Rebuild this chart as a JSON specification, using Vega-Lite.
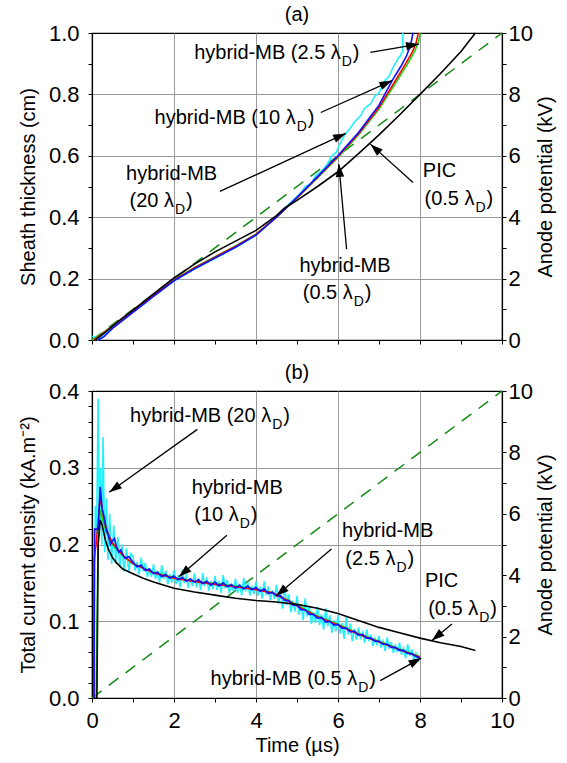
{
  "$schema": "https://vega.github.io/schema/vega-lite/v6.json",
  "padding": {"left": 17, "top": 4, "right": 5, "bottom": 5},
  "background": "white",
  "config": {
    "font": "Liberation Sans",
    "view": {"stroke": "black", "strokeWidth": 1.2},
    "title": {"fontSize": 20, "fontWeight": "normal", "font": "Liberation Sans", "color": "black"},
    "text": {"font": "Liberation Sans", "color": "black"},
    "axis": {
      "labelFont": "Liberation Sans", "titleFont": "Liberation Sans",
      "labelFontSize": 22, "titleFontSize": 20, "titleFontWeight": "normal",
      "labelColor": "black", "titleColor": "black",
      "domainColor": "black", "domainWidth": 1.2,
      "tickColor": "black", "tickSize": 4, "tickWidth": 1,
      "gridColor": "#999999", "gridWidth": 1,
      "labelPadding": 5, "titlePadding": 7,
      "labelFlush": false, "labelOverlap": false
    }
  },
  "datasets": {
    "sa": [
      {"s":"hybrid-MB 20","t":0,"v":0.012},{"s":"hybrid-MB 20","t":0.05,"v":0.01},{"s":"hybrid-MB 20","t":0.15,"v":0},{"s":"hybrid-MB 20","t":0.3,"v":0.015},{"s":"hybrid-MB 20","t":0.5,"v":0.04},{"s":"hybrid-MB 20","t":0.8,"v":0.07},{"s":"hybrid-MB 20","t":1,"v":0.092},{"s":"hybrid-MB 20","t":1.3,"v":0.12},{"s":"hybrid-MB 20","t":1.5,"v":0.143},{"s":"hybrid-MB 20","t":2,"v":0.193},{"s":"hybrid-MB 20","t":2.5,"v":0.231},{"s":"hybrid-MB 20","t":3,"v":0.266},{"s":"hybrid-MB 20","t":3.5,"v":0.301},{"s":"hybrid-MB 20","t":4,"v":0.342},{"s":"hybrid-MB 20","t":4.4,"v":0.39},{"s":"hybrid-MB 20","t":4.7,"v":0.43},{"s":"hybrid-MB 20","t":4.9,"v":0.455},{"s":"hybrid-MB 20","t":5.1,"v":0.48},{"s":"hybrid-MB 20","t":5.2,"v":0.5},{"s":"hybrid-MB 20","t":5.35,"v":0.51},{"s":"hybrid-MB 20","t":5.45,"v":0.535},{"s":"hybrid-MB 20","t":5.6,"v":0.55},{"s":"hybrid-MB 20","t":5.75,"v":0.575},{"s":"hybrid-MB 20","t":5.85,"v":0.6},{"s":"hybrid-MB 20","t":5.95,"v":0.61},{"s":"hybrid-MB 20","t":6.05,"v":0.64},{"s":"hybrid-MB 20","t":6.17,"v":0.67},{"s":"hybrid-MB 20","t":6.3,"v":0.69},{"s":"hybrid-MB 20","t":6.4,"v":0.71},{"s":"hybrid-MB 20","t":6.55,"v":0.73},{"s":"hybrid-MB 20","t":6.65,"v":0.755},{"s":"hybrid-MB 20","t":6.8,"v":0.77},{"s":"hybrid-MB 20","t":6.9,"v":0.795},{"s":"hybrid-MB 20","t":7,"v":0.805},{"s":"hybrid-MB 20","t":7.14,"v":0.845},{"s":"hybrid-MB 20","t":7.25,"v":0.86},{"s":"hybrid-MB 20","t":7.35,"v":0.89},{"s":"hybrid-MB 20","t":7.48,"v":0.92},{"s":"hybrid-MB 20","t":7.52,"v":0.925},{"s":"hybrid-MB 20","t":7.55,"v":0.935},{"s":"hybrid-MB 20","t":7.58,"v":0.94},{"s":"hybrid-MB 20","t":7.58,"v":1},
      {"s":"hybrid-MB 0.5","t":0,"v":0},{"s":"hybrid-MB 0.5","t":0.25,"v":0.022},{"s":"hybrid-MB 0.5","t":0.5,"v":0.046},{"s":"hybrid-MB 0.5","t":1,"v":0.096},{"s":"hybrid-MB 0.5","t":1.5,"v":0.146},{"s":"hybrid-MB 0.5","t":2,"v":0.196},{"s":"hybrid-MB 0.5","t":2.5,"v":0.236},{"s":"hybrid-MB 0.5","t":3,"v":0.271},{"s":"hybrid-MB 0.5","t":3.5,"v":0.306},{"s":"hybrid-MB 0.5","t":4,"v":0.345},{"s":"hybrid-MB 0.5","t":4.5,"v":0.4},{"s":"hybrid-MB 0.5","t":5,"v":0.462},{"s":"hybrid-MB 0.5","t":5.5,"v":0.528},{"s":"hybrid-MB 0.5","t":6,"v":0.595},{"s":"hybrid-MB 0.5","t":6.5,"v":0.668},{"s":"hybrid-MB 0.5","t":7,"v":0.752},{"s":"hybrid-MB 0.5","t":7.42,"v":0.84},{"s":"hybrid-MB 0.5","t":7.7,"v":0.9},{"s":"hybrid-MB 0.5","t":7.85,"v":0.935},{"s":"hybrid-MB 0.5","t":7.95,"v":0.965},{"s":"hybrid-MB 0.5","t":8.01,"v":1},
      {"s":"hybrid-MB 2.5","t":0.05,"v":0},{"s":"hybrid-MB 2.5","t":0.25,"v":0.02},{"s":"hybrid-MB 2.5","t":0.5,"v":0.045},{"s":"hybrid-MB 2.5","t":1,"v":0.095},{"s":"hybrid-MB 2.5","t":1.5,"v":0.145},{"s":"hybrid-MB 2.5","t":2,"v":0.195},{"s":"hybrid-MB 2.5","t":2.5,"v":0.235},{"s":"hybrid-MB 2.5","t":3,"v":0.27},{"s":"hybrid-MB 2.5","t":3.5,"v":0.305},{"s":"hybrid-MB 2.5","t":4,"v":0.344},{"s":"hybrid-MB 2.5","t":4.5,"v":0.401},{"s":"hybrid-MB 2.5","t":5,"v":0.463},{"s":"hybrid-MB 2.5","t":5.5,"v":0.53},{"s":"hybrid-MB 2.5","t":6,"v":0.598},{"s":"hybrid-MB 2.5","t":6.5,"v":0.672},{"s":"hybrid-MB 2.5","t":7,"v":0.758},{"s":"hybrid-MB 2.5","t":7.4,"v":0.845},{"s":"hybrid-MB 2.5","t":7.65,"v":0.9},{"s":"hybrid-MB 2.5","t":7.8,"v":0.935},{"s":"hybrid-MB 2.5","t":7.9,"v":0.965},{"s":"hybrid-MB 2.5","t":7.96,"v":1},
      {"s":"hybrid-MB 10","t":0.15,"v":0},{"s":"hybrid-MB 10","t":0.3,"v":0.012},{"s":"hybrid-MB 10","t":0.5,"v":0.038},{"s":"hybrid-MB 10","t":1,"v":0.09},{"s":"hybrid-MB 10","t":1.5,"v":0.142},{"s":"hybrid-MB 10","t":2,"v":0.193},{"s":"hybrid-MB 10","t":2.5,"v":0.232},{"s":"hybrid-MB 10","t":3,"v":0.267},{"s":"hybrid-MB 10","t":3.5,"v":0.302},{"s":"hybrid-MB 10","t":4,"v":0.342},{"s":"hybrid-MB 10","t":4.5,"v":0.4},{"s":"hybrid-MB 10","t":5,"v":0.465},{"s":"hybrid-MB 10","t":5.5,"v":0.532},{"s":"hybrid-MB 10","t":6,"v":0.601},{"s":"hybrid-MB 10","t":6.5,"v":0.676},{"s":"hybrid-MB 10","t":7,"v":0.765},{"s":"hybrid-MB 10","t":7.32,"v":0.845},{"s":"hybrid-MB 10","t":7.55,"v":0.895},{"s":"hybrid-MB 10","t":7.67,"v":0.925},{"s":"hybrid-MB 10","t":7.77,"v":0.96},{"s":"hybrid-MB 10","t":7.83,"v":1},
      {"s":"PIC 0.5","t":0.08,"v":0},{"s":"PIC 0.5","t":0.3,"v":0.022},{"s":"PIC 0.5","t":0.5,"v":0.045},{"s":"PIC 0.5","t":0.75,"v":0.072},{"s":"PIC 0.5","t":1,"v":0.097},{"s":"PIC 0.5","t":1.5,"v":0.15},{"s":"PIC 0.5","t":2,"v":0.202},{"s":"PIC 0.5","t":2.5,"v":0.247},{"s":"PIC 0.5","t":3,"v":0.287},{"s":"PIC 0.5","t":3.5,"v":0.322},{"s":"PIC 0.5","t":4,"v":0.357},{"s":"PIC 0.5","t":4.5,"v":0.405},{"s":"PIC 0.5","t":4.7,"v":0.43},{"s":"PIC 0.5","t":5,"v":0.455},{"s":"PIC 0.5","t":5.5,"v":0.5},{"s":"PIC 0.5","t":6,"v":0.548},{"s":"PIC 0.5","t":6.5,"v":0.607},{"s":"PIC 0.5","t":7,"v":0.668},{"s":"PIC 0.5","t":7.5,"v":0.733},{"s":"PIC 0.5","t":8,"v":0.8},{"s":"PIC 0.5","t":8.5,"v":0.868},{"s":"PIC 0.5","t":9,"v":0.94},{"s":"PIC 0.5","t":9.35,"v":1}
    ],
    "sb": [
      {"s":"hybrid-MB 20","t":0.05,"v":0},{"s":"hybrid-MB 20","t":0.08,"v":0.25},{"s":"hybrid-MB 20","t":0.11,"v":0.2},{"s":"hybrid-MB 20","t":0.15,"v":0.39},{"s":"hybrid-MB 20","t":0.18,"v":0.21},{"s":"hybrid-MB 20","t":0.21,"v":0.3},{"s":"hybrid-MB 20","t":0.24,"v":0.2},{"s":"hybrid-MB 20","t":0.27,"v":0.34},{"s":"hybrid-MB 20","t":0.31,"v":0.19},{"s":"hybrid-MB 20","t":0.35,"v":0.26},{"s":"hybrid-MB 20","t":0.39,"v":0.18},{"s":"hybrid-MB 20","t":0.43,"v":0.24},{"s":"hybrid-MB 20","t":0.48,"v":0.175},{"s":"hybrid-MB 20","t":0.53,"v":0.225},{"s":"hybrid-MB 20","t":0.58,"v":0.175},{"s":"hybrid-MB 20","t":0.63,"v":0.21},{"s":"hybrid-MB 20","t":0.68,"v":0.17},{"s":"hybrid-MB 20","t":0.73,"v":0.2},{"s":"hybrid-MB 20","t":0.78,"v":0.165},{"s":"hybrid-MB 20","t":0.84,"v":0.195},{"s":"hybrid-MB 20","t":0.9,"v":0.163},{"s":"hybrid-MB 20","t":0.95,"v":0.188},
      {"s":"hybrid-MB 20","t":1.0,"v":0.185},{"s":"hybrid-MB 20","t":1.05,"v":0.166},{"s":"hybrid-MB 20","t":1.1,"v":0.177},{"s":"hybrid-MB 20","t":1.15,"v":0.161},{"s":"hybrid-MB 20","t":1.2,"v":0.183},{"s":"hybrid-MB 20","t":1.25,"v":0.165},{"s":"hybrid-MB 20","t":1.3,"v":0.176},{"s":"hybrid-MB 20","t":1.35,"v":0.1575},{"s":"hybrid-MB 20","t":1.4,"v":0.169},{"s":"hybrid-MB 20","t":1.45,"v":0.158},{"s":"hybrid-MB 20","t":1.5,"v":0.174},{"s":"hybrid-MB 20","t":1.55,"v":0.155},{"s":"hybrid-MB 20","t":1.6,"v":0.166},{"s":"hybrid-MB 20","t":1.65,"v":0.1505},{"s":"hybrid-MB 20","t":1.7,"v":0.173},{"s":"hybrid-MB 20","t":1.75,"v":0.155},{"s":"hybrid-MB 20","t":1.8,"v":0.166},{"s":"hybrid-MB 20","t":1.85,"v":0.1485},{"s":"hybrid-MB 20","t":1.9,"v":0.161},{"s":"hybrid-MB 20","t":1.95,"v":0.1505},
      {"s":"hybrid-MB 20","t":2.0,"v":0.167},{"s":"hybrid-MB 20","t":2.05,"v":0.1485},{"s":"hybrid-MB 20","t":2.1,"v":0.16},{"s":"hybrid-MB 20","t":2.15,"v":0.1445},{"s":"hybrid-MB 20","t":2.2,"v":0.167},{"s":"hybrid-MB 20","t":2.25,"v":0.1495},{"s":"hybrid-MB 20","t":2.3,"v":0.161},{"s":"hybrid-MB 20","t":2.35,"v":0.1435},{"s":"hybrid-MB 20","t":2.4,"v":0.156},{"s":"hybrid-MB 20","t":2.45,"v":0.146},{"s":"hybrid-MB 20","t":2.5,"v":0.1625},{"s":"hybrid-MB 20","t":2.55,"v":0.144},{"s":"hybrid-MB 20","t":2.6,"v":0.156},{"s":"hybrid-MB 20","t":2.65,"v":0.1405},{"s":"hybrid-MB 20","t":2.7,"v":0.163},{"s":"hybrid-MB 20","t":2.75,"v":0.1455},{"s":"hybrid-MB 20","t":2.8,"v":0.157},{"s":"hybrid-MB 20","t":2.85,"v":0.14},{"s":"hybrid-MB 20","t":2.9,"v":0.1525},{"s":"hybrid-MB 20","t":2.95,"v":0.142},
      {"s":"hybrid-MB 20","t":3.0,"v":0.159},{"s":"hybrid-MB 20","t":3.05,"v":0.1408},{"s":"hybrid-MB 20","t":3.1,"v":0.1525},{"s":"hybrid-MB 20","t":3.15,"v":0.137},{"s":"hybrid-MB 20","t":3.2,"v":0.16},{"s":"hybrid-MB 20","t":3.25,"v":0.1425},{"s":"hybrid-MB 20","t":3.3,"v":0.154},{"s":"hybrid-MB 20","t":3.35,"v":0.1365},{"s":"hybrid-MB 20","t":3.4,"v":0.149},{"s":"hybrid-MB 20","t":3.45,"v":0.139},{"s":"hybrid-MB 20","t":3.5,"v":0.1555},{"s":"hybrid-MB 20","t":3.55,"v":0.137},{"s":"hybrid-MB 20","t":3.6,"v":0.149},{"s":"hybrid-MB 20","t":3.65,"v":0.1338},{"s":"hybrid-MB 20","t":3.7,"v":0.1565},{"s":"hybrid-MB 20","t":3.75,"v":0.139},{"s":"hybrid-MB 20","t":3.8,"v":0.151},{"s":"hybrid-MB 20","t":3.85,"v":0.1335},{"s":"hybrid-MB 20","t":3.9,"v":0.146},{"s":"hybrid-MB 20","t":3.95,"v":0.1355},
      {"s":"hybrid-MB 20","t":4.0,"v":0.152},{"s":"hybrid-MB 20","t":4.05,"v":0.1335},{"s":"hybrid-MB 20","t":4.1,"v":0.145},{"s":"hybrid-MB 20","t":4.15,"v":0.1295},{"s":"hybrid-MB 20","t":4.2,"v":0.152},{"s":"hybrid-MB 20","t":4.25,"v":0.134},{"s":"hybrid-MB 20","t":4.3,"v":0.1455},{"s":"hybrid-MB 20","t":4.35,"v":0.128},{"s":"hybrid-MB 20","t":4.4,"v":0.14},{"s":"hybrid-MB 20","t":4.45,"v":0.129},{"s":"hybrid-MB 20","t":4.5,"v":0.1475},{"s":"hybrid-MB 20","t":4.55,"v":0.123},{"s":"hybrid-MB 20","t":4.6,"v":0.137},{"s":"hybrid-MB 20","t":4.65,"v":0.1165},{"s":"hybrid-MB 20","t":4.7,"v":0.145},{"s":"hybrid-MB 20","t":4.75,"v":0.121},{"s":"hybrid-MB 20","t":4.8,"v":0.135},{"s":"hybrid-MB 20","t":4.85,"v":0.1115},{"s":"hybrid-MB 20","t":4.9,"v":0.127},{"s":"hybrid-MB 20","t":4.95,"v":0.1125},
      {"s":"hybrid-MB 20","t":5.0,"v":0.133},{"s":"hybrid-MB 20","t":5.05,"v":0.1085},{"s":"hybrid-MB 20","t":5.1,"v":0.122},{"s":"hybrid-MB 20","t":5.15,"v":0.1015},{"s":"hybrid-MB 20","t":5.2,"v":0.13},{"s":"hybrid-MB 20","t":5.25,"v":0.106},{"s":"hybrid-MB 20","t":5.3,"v":0.12},{"s":"hybrid-MB 20","t":5.35,"v":0.0965},{"s":"hybrid-MB 20","t":5.4,"v":0.112},{"s":"hybrid-MB 20","t":5.45,"v":0.098},{"s":"hybrid-MB 20","t":5.5,"v":0.119},{"s":"hybrid-MB 20","t":5.55,"v":0.095},{"s":"hybrid-MB 20","t":5.6,"v":0.109},{"s":"hybrid-MB 20","t":5.65,"v":0.089},{"s":"hybrid-MB 20","t":5.7,"v":0.1175},{"s":"hybrid-MB 20","t":5.75,"v":0.0935},{"s":"hybrid-MB 20","t":5.8,"v":0.108},{"s":"hybrid-MB 20","t":5.85,"v":0.085},{"s":"hybrid-MB 20","t":5.9,"v":0.101},{"s":"hybrid-MB 20","t":5.95,"v":0.087},
      {"s":"hybrid-MB 20","t":6.0,"v":0.108},{"s":"hybrid-MB 20","t":6.05,"v":0.084},{"s":"hybrid-MB 20","t":6.1,"v":0.0975},{"s":"hybrid-MB 20","t":6.15,"v":0.077},{"s":"hybrid-MB 20","t":6.2,"v":0.106},{"s":"hybrid-MB 20","t":6.25,"v":0.0825},{"s":"hybrid-MB 20","t":6.3,"v":0.097},{"s":"hybrid-MB 20","t":6.35,"v":0.074},{"s":"hybrid-MB 20","t":6.4,"v":0.09},{"s":"hybrid-MB 20","t":6.45,"v":0.076},{"s":"hybrid-MB 20","t":6.5,"v":0.092},{"s":"hybrid-MB 20","t":6.55,"v":0.0765},{"s":"hybrid-MB 20","t":6.6,"v":0.085},{"s":"hybrid-MB 20","t":6.65,"v":0.072},{"s":"hybrid-MB 20","t":6.7,"v":0.0895},{"s":"hybrid-MB 20","t":6.75,"v":0.074},{"s":"hybrid-MB 20","t":6.8,"v":0.0825},{"s":"hybrid-MB 20","t":6.85,"v":0.068},{"s":"hybrid-MB 20","t":6.9,"v":0.0775},{"s":"hybrid-MB 20","t":6.95,"v":0.0685},
      {"s":"hybrid-MB 20","t":7.0,"v":0.081},{"s":"hybrid-MB 20","t":7.05,"v":0.0655},{"s":"hybrid-MB 20","t":7.1,"v":0.074},{"s":"hybrid-MB 20","t":7.15,"v":0.061},{"s":"hybrid-MB 20","t":7.2,"v":0.079},{"s":"hybrid-MB 20","t":7.25,"v":0.064},{"s":"hybrid-MB 20","t":7.3,"v":0.073},{"s":"hybrid-MB 20","t":7.35,"v":0.0588},{"s":"hybrid-MB 20","t":7.4,"v":0.0685},{"s":"hybrid-MB 20","t":7.45,"v":0.0595},{"s":"hybrid-MB 20","t":7.5,"v":0.072},{"s":"hybrid-MB 20","t":7.55,"v":0.0565},{"s":"hybrid-MB 20","t":7.6,"v":0.065},{"s":"hybrid-MB 20","t":7.65,"v":0.052},{"s":"hybrid-MB 20","t":7.7,"v":0.07},{"s":"hybrid-MB 20","t":7.75,"v":0.055},{"s":"hybrid-MB 20","t":7.8,"v":0.0635},{"s":"hybrid-MB 20","t":7.85,"v":0.049},{"s":"hybrid-MB 20","t":7.9,"v":0.058},{"s":"hybrid-MB 20","t":7.95,"v":0.0485},{"s":"hybrid-MB 20","t":8.0,"v":0.053},
      {"s":"hybrid-MB 0.5","t":0.1,"v":0},{"s":"hybrid-MB 0.5","t":0.12,"v":0.1},{"s":"hybrid-MB 0.5","t":0.15,"v":0.2},{"s":"hybrid-MB 0.5","t":0.2,"v":0.245},{"s":"hybrid-MB 0.5","t":0.3,"v":0.225},{"s":"hybrid-MB 0.5","t":0.4,"v":0.21},{"s":"hybrid-MB 0.5","t":0.5,"v":0.2},{"s":"hybrid-MB 0.5","t":0.75,"v":0.185},{"s":"hybrid-MB 0.5","t":1,"v":0.175},{"s":"hybrid-MB 0.5","t":1.5,"v":0.164},{"s":"hybrid-MB 0.5","t":2,"v":0.157},{"s":"hybrid-MB 0.5","t":2.5,"v":0.152},{"s":"hybrid-MB 0.5","t":3,"v":0.149},{"s":"hybrid-MB 0.5","t":3.5,"v":0.146},{"s":"hybrid-MB 0.5","t":4,"v":0.142},{"s":"hybrid-MB 0.5","t":4.4,"v":0.137},{"s":"hybrid-MB 0.5","t":4.6,"v":0.132},{"s":"hybrid-MB 0.5","t":4.8,"v":0.127},{"s":"hybrid-MB 0.5","t":5,"v":0.121},{"s":"hybrid-MB 0.5","t":5.5,"v":0.107},{"s":"hybrid-MB 0.5","t":6,"v":0.096},{"s":"hybrid-MB 0.5","t":6.5,"v":0.084},{"s":"hybrid-MB 0.5","t":7,"v":0.074},{"s":"hybrid-MB 0.5","t":7.5,"v":0.064},{"s":"hybrid-MB 0.5","t":8,"v":0.054},
      {"s":"hybrid-MB 2.5","t":0.05,"v":0},{"s":"hybrid-MB 2.5","t":0.05,"v":0.18},{"s":"hybrid-MB 2.5","t":0.1,"v":0.2},{"s":"hybrid-MB 2.5","t":0.2,"v":0.262},{"s":"hybrid-MB 2.5","t":0.3,"v":0.23},{"s":"hybrid-MB 2.5","t":0.4,"v":0.213},{"s":"hybrid-MB 2.5","t":0.5,"v":0.202},{"s":"hybrid-MB 2.5","t":0.75,"v":0.186},{"s":"hybrid-MB 2.5","t":1,"v":0.175},{"s":"hybrid-MB 2.5","t":1.5,"v":0.163},{"s":"hybrid-MB 2.5","t":2,"v":0.156},{"s":"hybrid-MB 2.5","t":2.5,"v":0.152},{"s":"hybrid-MB 2.5","t":3,"v":0.148},{"s":"hybrid-MB 2.5","t":3.5,"v":0.145},{"s":"hybrid-MB 2.5","t":4,"v":0.141},{"s":"hybrid-MB 2.5","t":4.4,"v":0.137},{"s":"hybrid-MB 2.5","t":4.6,"v":0.132},{"s":"hybrid-MB 2.5","t":4.8,"v":0.126},{"s":"hybrid-MB 2.5","t":5,"v":0.12},{"s":"hybrid-MB 2.5","t":5.5,"v":0.106},{"s":"hybrid-MB 2.5","t":6,"v":0.095},{"s":"hybrid-MB 2.5","t":6.5,"v":0.083},{"s":"hybrid-MB 2.5","t":7,"v":0.073},{"s":"hybrid-MB 2.5","t":7.5,"v":0.063},{"s":"hybrid-MB 2.5","t":8,"v":0.053},
      {"s":"hybrid-MB 10","t":0.05,"v":0},{"s":"hybrid-MB 10","t":0.06,"v":0.22},{"s":"hybrid-MB 10","t":0.15,"v":0.22},{"s":"hybrid-MB 10","t":0.2,"v":0.275},{"s":"hybrid-MB 10","t":0.25,"v":0.245},{"s":"hybrid-MB 10","t":0.3,"v":0.235},{"s":"hybrid-MB 10","t":0.35,"v":0.218},{"s":"hybrid-MB 10","t":0.4,"v":0.212},{"s":"hybrid-MB 10","t":0.45,"v":0.2},{"s":"hybrid-MB 10","t":0.5,"v":0.205},{"s":"hybrid-MB 10","t":0.55,"v":0.208},{"s":"hybrid-MB 10","t":0.6,"v":0.196},{"s":"hybrid-MB 10","t":0.65,"v":0.19},{"s":"hybrid-MB 10","t":0.7,"v":0.193},{"s":"hybrid-MB 10","t":0.8,"v":0.182},{"s":"hybrid-MB 10","t":0.9,"v":0.184},
      {"s":"hybrid-MB 10","t":1.0,"v":0.177},{"s":"hybrid-MB 10","t":1.1,"v":0.171},{"s":"hybrid-MB 10","t":1.2,"v":0.173},{"s":"hybrid-MB 10","t":1.3,"v":0.166},{"s":"hybrid-MB 10","t":1.4,"v":0.168},{"s":"hybrid-MB 10","t":1.5,"v":0.162},{"s":"hybrid-MB 10","t":1.6,"v":0.164},{"s":"hybrid-MB 10","t":1.7,"v":0.158},{"s":"hybrid-MB 10","t":1.8,"v":0.161},{"s":"hybrid-MB 10","t":1.9,"v":0.156},{"s":"hybrid-MB 10","t":2.0,"v":0.159},{"s":"hybrid-MB 10","t":2.1,"v":0.154},{"s":"hybrid-MB 10","t":2.2,"v":0.157},{"s":"hybrid-MB 10","t":2.3,"v":0.152},{"s":"hybrid-MB 10","t":2.4,"v":0.155},{"s":"hybrid-MB 10","t":2.5,"v":0.151},{"s":"hybrid-MB 10","t":2.6,"v":0.154},{"s":"hybrid-MB 10","t":2.7,"v":0.149},{"s":"hybrid-MB 10","t":2.8,"v":0.152},{"s":"hybrid-MB 10","t":2.9,"v":0.147},{"s":"hybrid-MB 10","t":3.0,"v":0.151},{"s":"hybrid-MB 10","t":3.1,"v":0.146},{"s":"hybrid-MB 10","t":3.2,"v":0.15},{"s":"hybrid-MB 10","t":3.3,"v":0.145},{"s":"hybrid-MB 10","t":3.4,"v":0.148},{"s":"hybrid-MB 10","t":3.5,"v":0.143},{"s":"hybrid-MB 10","t":3.6,"v":0.147},{"s":"hybrid-MB 10","t":3.7,"v":0.142},{"s":"hybrid-MB 10","t":3.8,"v":0.146},{"s":"hybrid-MB 10","t":3.9,"v":0.141},{"s":"hybrid-MB 10","t":4.0,"v":0.144},{"s":"hybrid-MB 10","t":4.1,"v":0.139},{"s":"hybrid-MB 10","t":4.2,"v":0.142},{"s":"hybrid-MB 10","t":4.3,"v":0.136},{"s":"hybrid-MB 10","t":4.4,"v":0.138},{"s":"hybrid-MB 10","t":4.5,"v":0.133},{"s":"hybrid-MB 10","t":4.6,"v":0.133},{"s":"hybrid-MB 10","t":4.7,"v":0.127},{"s":"hybrid-MB 10","t":4.8,"v":0.127},{"s":"hybrid-MB 10","t":4.9,"v":0.121},{"s":"hybrid-MB 10","t":5.0,"v":0.121},{"s":"hybrid-MB 10","t":5.1,"v":0.115},{"s":"hybrid-MB 10","t":5.2,"v":0.115},{"s":"hybrid-MB 10","t":5.3,"v":0.109},{"s":"hybrid-MB 10","t":5.4,"v":0.109},{"s":"hybrid-MB 10","t":5.5,"v":0.104},{"s":"hybrid-MB 10","t":5.6,"v":0.105},{"s":"hybrid-MB 10","t":5.7,"v":0.099},{"s":"hybrid-MB 10","t":5.8,"v":0.1},{"s":"hybrid-MB 10","t":5.9,"v":0.095},{"s":"hybrid-MB 10","t":6.0,"v":0.096},{"s":"hybrid-MB 10","t":6.1,"v":0.091},{"s":"hybrid-MB 10","t":6.2,"v":0.091},{"s":"hybrid-MB 10","t":6.3,"v":0.086},{"s":"hybrid-MB 10","t":6.4,"v":0.087},{"s":"hybrid-MB 10","t":6.5,"v":0.082},{"s":"hybrid-MB 10","t":6.6,"v":0.083},{"s":"hybrid-MB 10","t":6.7,"v":0.078},{"s":"hybrid-MB 10","t":6.8,"v":0.078},{"s":"hybrid-MB 10","t":6.9,"v":0.074},{"s":"hybrid-MB 10","t":7.0,"v":0.074},{"s":"hybrid-MB 10","t":7.1,"v":0.07},{"s":"hybrid-MB 10","t":7.2,"v":0.07},{"s":"hybrid-MB 10","t":7.3,"v":0.066},{"s":"hybrid-MB 10","t":7.4,"v":0.066},{"s":"hybrid-MB 10","t":7.5,"v":0.062},{"s":"hybrid-MB 10","t":7.6,"v":0.062},{"s":"hybrid-MB 10","t":7.7,"v":0.058},{"s":"hybrid-MB 10","t":7.8,"v":0.058},{"s":"hybrid-MB 10","t":7.9,"v":0.054},{"s":"hybrid-MB 10","t":8.0,"v":0.052},
      {"s":"PIC 0.5","t":0.08,"v":0},{"s":"PIC 0.5","t":0.12,"v":0},{"s":"PIC 0.5","t":0.15,"v":0.2},{"s":"PIC 0.5","t":0.2,"v":0.232},{"s":"PIC 0.5","t":0.25,"v":0.225},{"s":"PIC 0.5","t":0.32,"v":0.207},{"s":"PIC 0.5","t":0.4,"v":0.194},{"s":"PIC 0.5","t":0.5,"v":0.183},{"s":"PIC 0.5","t":0.6,"v":0.176},{"s":"PIC 0.5","t":0.75,"v":0.168},{"s":"PIC 0.5","t":1,"v":0.162},{"s":"PIC 0.5","t":1.25,"v":0.156},{"s":"PIC 0.5","t":1.5,"v":0.151},{"s":"PIC 0.5","t":2,"v":0.143},{"s":"PIC 0.5","t":2.5,"v":0.138},{"s":"PIC 0.5","t":3,"v":0.134},{"s":"PIC 0.5","t":3.5,"v":0.13},{"s":"PIC 0.5","t":4,"v":0.127},{"s":"PIC 0.5","t":4.5,"v":0.125},{"s":"PIC 0.5","t":5,"v":0.122},{"s":"PIC 0.5","t":5.5,"v":0.117},{"s":"PIC 0.5","t":6,"v":0.11},{"s":"PIC 0.5","t":6.5,"v":0.101},{"s":"PIC 0.5","t":7,"v":0.092},{"s":"PIC 0.5","t":7.5,"v":0.085},{"s":"PIC 0.5","t":8,"v":0.078},{"s":"PIC 0.5","t":8.5,"v":0.072},{"s":"PIC 0.5","t":9,"v":0.067},{"s":"PIC 0.5","t":9.35,"v":0.062}
    ],
    "pot": [{"t": 0, "kv": 0}, {"t": 10, "kv": 10}],
    "ann": [
      {"p":"a","kind":"sub","x":6.07,"y":0.934,"text":"hybrid-MB (2.5 λ"},
      {"p":"a","kind":"sub","x":4.97,"y":0.723,"text":"hybrid-MB (10 λ"},
      {"p":"a","kind":"plain","x":0.83,"y":0.54,"text":"hybrid-MB"},
      {"p":"a","kind":"sub","x":2.0,"y":0.453,"text":"(20 λ"},
      {"p":"a","kind":"plain","x":8.07,"y":0.551,"text":"PIC"},
      {"p":"a","kind":"sub","x":9.33,"y":0.459,"text":"(0.5 λ"},
      {"p":"a","kind":"plain","x":5.06,"y":0.241,"text":"hybrid-MB"},
      {"p":"a","kind":"sub","x":6.36,"y":0.154,"text":"(0.5 λ"},
      {"p":"b","kind":"sub","x":4.37,"y":0.368,"text":"hybrid-MB (20 λ"},
      {"p":"b","kind":"plain","x":2.43,"y":0.273,"text":"hybrid-MB"},
      {"p":"b","kind":"sub","x":3.58,"y":0.238,"text":"(10 λ"},
      {"p":"b","kind":"plain","x":6.1,"y":0.218,"text":"hybrid-MB"},
      {"p":"b","kind":"sub","x":7.4,"y":0.181,"text":"(2.5 λ"},
      {"p":"b","kind":"plain","x":8.12,"y":0.153,"text":"PIC"},
      {"p":"b","kind":"sub","x":9.42,"y":0.116,"text":"(0.5 λ"},
      {"p":"b","kind":"sub","x":6.47,"y":0.025,"text":"hybrid-MB (0.5 λ"}
    ],
    "arr": [
      {"p":"a","x1":6.79,"y1":0.937,"x2":7.97,"y2":0.964},
      {"p":"a","x1":5.58,"y1":0.741,"x2":7.32,"y2":0.845},
      {"p":"a","x1":3.12,"y1":0.484,"x2":6.19,"y2":0.673},
      {"p":"a","x1":7.83,"y1":0.513,"x2":6.79,"y2":0.638},
      {"p":"a","x1":6.21,"y1":0.296,"x2":6.02,"y2":0.573},
      {"p":"b","x1":2.57,"y1":0.35,"x2":0.42,"y2":0.268},
      {"p":"b","x1":3.29,"y1":0.212,"x2":2.12,"y2":0.158},
      {"p":"b","x1":5.84,"y1":0.194,"x2":4.49,"y2":0.133},
      {"p":"b","x1":8.78,"y1":0.0965,"x2":8.29,"y2":0.075},
      {"p":"b","x1":7.03,"y1":0.0226,"x2":8.03,"y2":0.052}
    ]
  },
  "spacing": 51,
  "bounds": "flush",
  "vconcat": [
    {
      "width": 410, "height": 307,
      "title": {"text": "(a)", "offset": -3},
      "layer": [
        {
          "data": {"name": "pot"},
          "mark": {"type": "line", "color": "#138a13", "strokeDash": [12, 9], "strokeWidth": 1.5},
          "encoding": {
            "x": {"field": "t", "type": "quantitative", "scale": {"domain": [0, 10], "nice": false}},
            "y": {"field": "kv", "type": "quantitative", "scale": {"domain": [0, 10], "nice": false},
              "axis": {"orient": "right", "title": "Anode potential (kV)", "titleAngle": -90, "titleBaseline": "top", "values": [0,1,2,3,4,5,6,7,8,9,10], "tickCount": 100, "labelPadding": 2, "titlePadding": 3, "labelExpr": "datum.value % 2 == 0 ? format(datum.value, 'd') : ''", "labelOverlap": false, "grid": false}}
          }
        },
        {
          "layer": [
            {
              "data": {"name": "sa"},
              "mark": {"type": "line", "strokeWidth": 1.6},
              "encoding": {
                "x": {"field": "t", "type": "quantitative", "scale": {"domain": [0, 10], "nice": false},
                  "axis": {"title": null, "values": [0,1,2,3,4,5,6,7,8,9,10], "tickCount": 100, "labels": false, "grid": true, "labelOverlap": false,
                    "gridOpacity": {"condition": {"test": "datum.value % 2 == 0 && datum.value > 0 && datum.value < 10", "value": 1}, "value": 0}}},
                "y": {"field": "v", "type": "quantitative", "scale": {"domain": [0, 1], "nice": false},
                  "axis": {"orient": "left", "title": "Sheath thickness (cm)", "values": [0,0.1,0.2,0.3,0.4,0.5,0.6,0.7,0.8,0.9,1], "tickCount": 100, "labelOverlap": false, "labelPadding": 9, "titlePadding": 10,
                    "labelExpr": "abs(datum.value*5 - round(datum.value*5)) < 0.001 ? format(datum.value, '.1f') : ''", "grid": true,
                    "gridOpacity": {"condition": {"test": "abs(datum.value*5 - round(datum.value*5)) < 0.001 && datum.value > 0.01 && datum.value < 0.99", "value": 1}, "value": 0}}},
                "color": {"field": "s", "type": "nominal", "legend": null,
                  "scale": {"domain": ["hybrid-MB 20", "hybrid-MB 0.5", "hybrid-MB 2.5", "hybrid-MB 10", "PIC 0.5"], "range": ["#22f0ff", "#10dd10", "#ff0000", "#1010ff", "#000000"]}},
                "order": {"value": null}
              }
            },
            {
              "data": {"name": "arr"},
              "transform": [{"filter": "datum.p == 'a'"}],
              "mark": {"type": "rule", "color": "black", "strokeWidth": 1.3},
              "encoding": {
                "x": {"field": "x1", "type": "quantitative"},
                "y": {"field": "y1", "type": "quantitative"},
                "x2": {"field": "x2"},
                "y2": {"field": "y2"}
              }
            },
            {
              "data": {"name": "arr"},
              "transform": [{"filter": "datum.p == 'a'"}, {"calculate": "atan2((datum.x2 - datum.x1) * 41, (datum.y2 - datum.y1) * 307) * 180 / PI", "as": "ang"}],
              "mark": {"type": "point", "shape": "M0,0L1,3L-1,3Z", "size": 72, "filled": true, "color": "black", "opacity": 1},
              "encoding": {
                "x": {"field": "x2", "type": "quantitative"},
                "y": {"field": "y2", "type": "quantitative"},
                "angle": {"field": "ang", "type": "quantitative", "scale": null}
              }
            },
            {
              "data": {"name": "ann"},
              "transform": [{"filter": "datum.p == 'a' && datum.kind == 'plain'"}],
              "mark": {"type": "text", "align": "left", "baseline": "middle", "fontSize": 20},
              "encoding": {"x": {"field": "x", "type": "quantitative"}, "y": {"field": "y", "type": "quantitative"}, "text": {"field": "text"}}
            },
            {
              "data": {"name": "ann"},
              "transform": [{"filter": "datum.p == 'a' && datum.kind == 'sub'"}],
              "mark": {"type": "text", "align": "right", "baseline": "middle", "fontSize": 20},
              "encoding": {"x": {"field": "x", "type": "quantitative"}, "y": {"field": "y", "type": "quantitative"}, "text": {"field": "text"}}
            },
            {
              "data": {"name": "ann"},
              "transform": [{"filter": "datum.p == 'a' && datum.kind == 'sub'"}],
              "mark": {"type": "text", "align": "left", "baseline": "middle", "fontSize": 14, "text": "D", "dx": 1, "dy": 9},
              "encoding": {"x": {"field": "x", "type": "quantitative"}, "y": {"field": "y", "type": "quantitative"}}
            },
            {
              "data": {"name": "ann"},
              "transform": [{"filter": "datum.p == 'a' && datum.kind == 'sub'"}],
              "mark": {"type": "text", "align": "left", "baseline": "middle", "fontSize": 20, "text": ")", "dx": 12},
              "encoding": {"x": {"field": "x", "type": "quantitative"}, "y": {"field": "y", "type": "quantitative"}}
            }
          ]
        }
      ],
      "resolve": {"scale": {"y": "independent"}}
    },
    {
      "width": 410, "height": 307,
      "title": {"text": "(b)", "offset": -3},
      "layer": [
        {
          "data": {"name": "pot"},
          "mark": {"type": "line", "color": "#138a13", "strokeDash": [12, 9], "strokeWidth": 1.5},
          "encoding": {
            "x": {"field": "t", "type": "quantitative", "scale": {"domain": [0, 10], "nice": false}},
            "y": {"field": "kv", "type": "quantitative", "scale": {"domain": [0, 10], "nice": false},
              "axis": {"orient": "right", "title": "Anode potential (kV)", "titleAngle": -90, "titleBaseline": "top", "values": [0,1,2,3,4,5,6,7,8,9,10], "tickCount": 100, "labelPadding": 2, "titlePadding": 3, "labelExpr": "datum.value % 2 == 0 ? format(datum.value, 'd') : ''", "labelOverlap": false, "grid": false}}
          }
        },
        {
          "layer": [
            {
              "data": {"name": "sb"},
              "mark": {"type": "line", "strokeWidth": 1.6},
              "encoding": {
                "x": {"field": "t", "type": "quantitative", "scale": {"domain": [0, 10], "nice": false},
                  "axis": {"title": "Time (µs)", "values": [0,1,2,3,4,5,6,7,8,9,10], "tickCount": 100, "labelPadding": 8, "titlePadding": 4, "labelExpr": "datum.value % 2 == 0 ? format(datum.value, 'd') : ''", "grid": true, "labelOverlap": false,
                    "gridOpacity": {"condition": {"test": "datum.value % 2 == 0 && datum.value > 0 && datum.value < 10", "value": 1}, "value": 0}}},
                "y": {"field": "v", "type": "quantitative", "scale": {"domain": [0, 0.4], "nice": false},
                  "axis": {"orient": "left", "title": "Total current density (kA.m⁻²)", "values": [0,0.02,0.04,0.06,0.08,0.1,0.12,0.14,0.16,0.18,0.2,0.22,0.24,0.26,0.28,0.3,0.32,0.34,0.36,0.38,0.4], "tickCount": 100, "labelOverlap": false, "labelPadding": 9, "titlePadding": 10,
                    "labelExpr": "abs(datum.value*10 - round(datum.value*10)) < 0.001 ? format(datum.value, '.1f') : ''", "grid": true,
                    "gridOpacity": {"condition": {"test": "abs(datum.value*10 - round(datum.value*10)) < 0.001 && datum.value > 0.01 && datum.value < 0.39", "value": 1}, "value": 0}}},
                "color": {"field": "s", "type": "nominal", "legend": null,
                  "scale": {"domain": ["hybrid-MB 20", "hybrid-MB 0.5", "hybrid-MB 2.5", "hybrid-MB 10", "PIC 0.5"], "range": ["#22f0ff", "#10dd10", "#ff0000", "#1010ff", "#000000"]}},
                "order": {"value": null}
              }
            },
            {
              "data": {"name": "arr"},
              "transform": [{"filter": "datum.p == 'b'"}],
              "mark": {"type": "rule", "color": "black", "strokeWidth": 1.3},
              "encoding": {
                "x": {"field": "x1", "type": "quantitative"},
                "y": {"field": "y1", "type": "quantitative"},
                "x2": {"field": "x2"},
                "y2": {"field": "y2"}
              }
            },
            {
              "data": {"name": "arr"},
              "transform": [{"filter": "datum.p == 'b'"}, {"calculate": "atan2((datum.x2 - datum.x1) * 41, (datum.y2 - datum.y1) * 767.5) * 180 / PI", "as": "ang"}],
              "mark": {"type": "point", "shape": "M0,0L1,3L-1,3Z", "size": 72, "filled": true, "color": "black", "opacity": 1},
              "encoding": {
                "x": {"field": "x2", "type": "quantitative"},
                "y": {"field": "y2", "type": "quantitative"},
                "angle": {"field": "ang", "type": "quantitative", "scale": null}
              }
            },
            {
              "data": {"name": "ann"},
              "transform": [{"filter": "datum.p == 'b' && datum.kind == 'plain'"}],
              "mark": {"type": "text", "align": "left", "baseline": "middle", "fontSize": 20},
              "encoding": {"x": {"field": "x", "type": "quantitative"}, "y": {"field": "y", "type": "quantitative"}, "text": {"field": "text"}}
            },
            {
              "data": {"name": "ann"},
              "transform": [{"filter": "datum.p == 'b' && datum.kind == 'sub'"}],
              "mark": {"type": "text", "align": "right", "baseline": "middle", "fontSize": 20},
              "encoding": {"x": {"field": "x", "type": "quantitative"}, "y": {"field": "y", "type": "quantitative"}, "text": {"field": "text"}}
            },
            {
              "data": {"name": "ann"},
              "transform": [{"filter": "datum.p == 'b' && datum.kind == 'sub'"}],
              "mark": {"type": "text", "align": "left", "baseline": "middle", "fontSize": 14, "text": "D", "dx": 1, "dy": 9},
              "encoding": {"x": {"field": "x", "type": "quantitative"}, "y": {"field": "y", "type": "quantitative"}}
            },
            {
              "data": {"name": "ann"},
              "transform": [{"filter": "datum.p == 'b' && datum.kind == 'sub'"}],
              "mark": {"type": "text", "align": "left", "baseline": "middle", "fontSize": 20, "text": ")", "dx": 12},
              "encoding": {"x": {"field": "x", "type": "quantitative"}, "y": {"field": "y", "type": "quantitative"}}
            }
          ]
        }
      ],
      "resolve": {"scale": {"y": "independent"}}
    }
  ]
}
